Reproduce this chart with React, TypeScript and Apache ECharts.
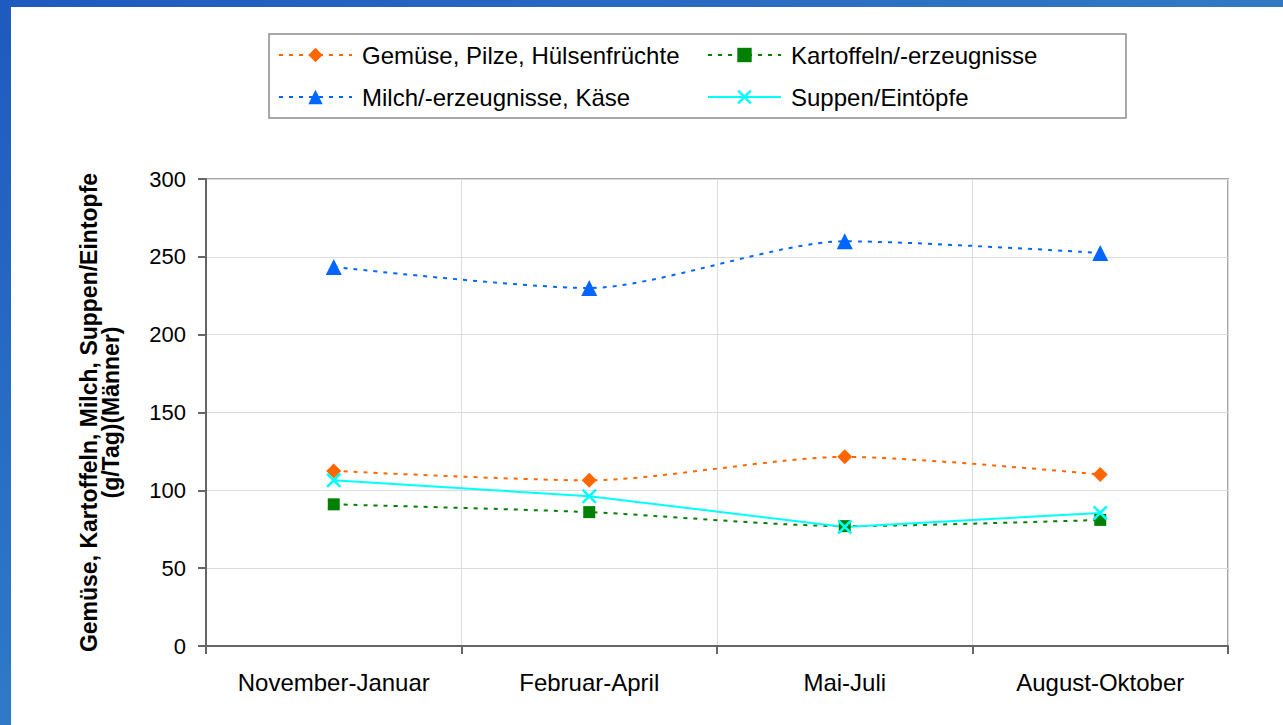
import React, { useEffect, useRef } from "react";
import * as echarts from "echarts";

const categories = ["November-Januar", "Februar-April", "Mai-Juli", "August-Oktober"];
const gemuese = [112.5, 106.4, 121.5, 110.2];
const kartoffeln = [91, 86, 77, 81];
const milch = [243.5, 230, 260, 252.5];
const suppen = [106.4, 96.2, 76.5, 85.5];
const seriesNames = [
  "Gemüse, Pilze, Hülsenfrüchte",
  "Kartoffeln/-erzeugnisse",
  "Milch/-erzeugnisse, Käse",
  "Suppen/Eintöpfe",
];
const yTicks = { min: 0, max: 300, interval: 50 };
const yAxisName = "Gemüse, Kartoffeln, Milch, Suppen/Eintopfe\n(g/Tag)(Männer)";

const FONT = "Liberation Sans, Arial, sans-serif";
const crossPath =
  "path://M0,1.2 L1.2,0 L5,3.8 L8.8,0 L10,1.2 L6.2,5 L10,8.8 L8.8,10 L5,6.2 L1.2,10 L0,8.8 L3.8,5 Z";

export default function App() {
  const ref = useRef<HTMLDivElement>(null);
  useEffect(() => {
    if (!ref.current) return;
    const chart = echarts.init(ref.current, null, { renderer: "svg" });
    const dotted = (color: string) => ({
      color,
      width: 2,
      type: [4, 6] as number[],
    });
    const legendText = {
      fontFamily: FONT,
      fontSize: 24,
      color: "#000",
      lineHeight: 24,
      padding: [0, 0, 0, 5],
    };
    const legendCommon = {
      orient: "vertical",
      top: 43,
      padding: 0,
      itemWidth: 73,
      itemHeight: 18,
      itemGap: 18,
      textStyle: legendText,
    };
    chart.setOption({
      animation: false,
      backgroundColor: "#fff",
      grid: {
        left: 206,
        right: 55,
        top: 179,
        bottom: 79,
        show: true,
        borderColor: "#a6a6a6",
        borderWidth: 2,
        containLabel: false,
      },
      legend: [
        { ...legendCommon, left: 278, data: [seriesNames[0], seriesNames[2]] },
        { ...legendCommon, left: 707, data: [seriesNames[1], seriesNames[3]] },
      ],
      xAxis: {
        type: "category",
        data: categories,
        boundaryGap: true,
        axisLine: { show: true, lineStyle: { color: "#666", width: 2 } },
        axisTick: { show: true, length: 8, lineStyle: { color: "#666", width: 2 } },
        axisLabel: { fontFamily: FONT, fontSize: 24, color: "#000", margin: 24 },
        splitLine: { show: true, lineStyle: { color: "#dcdcdc", width: 1 } },
      },
      yAxis: {
        type: "value",
        min: yTicks.min,
        max: yTicks.max,
        interval: yTicks.interval,
        name: yAxisName,
        nameLocation: "middle",
        nameRotate: 90,
        nameGap: 84,
        nameTextStyle: {
          fontFamily: FONT,
          fontSize: 23,
          fontWeight: "bold",
          color: "#000",
          lineHeight: 22,
          align: "center",
        },
        axisLine: { show: true, lineStyle: { color: "#666", width: 2 } },
        axisTick: { show: true, length: 8, lineStyle: { color: "#666", width: 2 } },
        axisLabel: { fontFamily: FONT, fontSize: 22, color: "#000", margin: 20 },
        splitLine: { show: true, lineStyle: { color: "#dcdcdc", width: 1 } },
      },
      series: [
        {
          name: seriesNames[0],
          type: "line",
          data: gemuese,
          smooth: 0.25,
          symbol: "diamond",
          symbolSize: 15,
          itemStyle: { color: "#ff6600" },
          lineStyle: dotted("#ff6600"),
        },
        {
          name: seriesNames[1],
          type: "line",
          data: kartoffeln,
          smooth: 0.25,
          symbol: "rect",
          symbolSize: 12,
          itemStyle: { color: "#008000" },
          lineStyle: dotted("#008000"),
        },
        {
          name: seriesNames[2],
          type: "line",
          data: milch,
          smooth: 0.25,
          symbol: "triangle",
          symbolSize: 16,
          itemStyle: { color: "#0066ff" },
          lineStyle: dotted("#0066ff"),
        },
        {
          name: seriesNames[3],
          type: "line",
          data: suppen,
          smooth: false,
          symbol: crossPath,
          symbolSize: 15,
          itemStyle: { color: "#00ffff" },
          lineStyle: { color: "#00ffff", width: 2, type: "solid" },
        },
      ],
      graphic: [
        {
          type: "rect",
          shape: { x: 269, y: 34, width: 857, height: 84 },
          style: { fill: "none", stroke: "#8c8c8c", lineWidth: 1.5 },
          z: 5,
        },
        {
          type: "rect",
          shape: { x: 0, y: 0, width: 11, height: 725 },
          style: {
            fill: new echarts.graphic.LinearGradient(0, 0, 0, 1, [
              { offset: 0, color: "#1e5abf" },
              { offset: 1, color: "#2f7ac8" },
            ]),
          },
          z: 10,
        },
        {
          type: "rect",
          shape: { x: 0, y: 0, width: 1283, height: 7 },
          style: {
            fill: new echarts.graphic.LinearGradient(0, 0, 1, 0, [
              { offset: 0, color: "#1e5abf" },
              { offset: 1, color: "#3279c4" },
            ]),
          },
          z: 10,
        },
      ],
    });
    return () => chart.dispose();
  }, []);
  return (
    <div
      ref={ref}
      style={{ position: "fixed", left: 0, top: 0, width: 1283, height: 725, background: "#fff" }}
    />
  );
}
